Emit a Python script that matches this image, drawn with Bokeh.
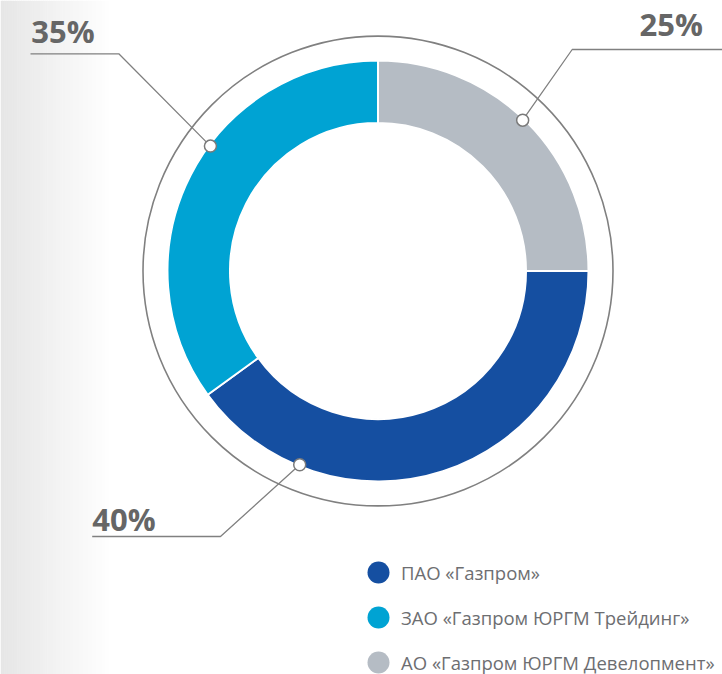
import numpy as np
from bokeh.plotting import figure
from bokeh.models import Range1d
from bokeh.core.properties import value
from bokeh.embed import file_html
from bokeh.resources import INLINE

# ---- data ----
companies = ["ПАО «Газпром»", "ЗАО «Газпром ЮРГМ Трейдинг»", "АО «Газпром ЮРГМ Девелопмент»"]
shares = [40, 35, 25]
labels = ["40%", "35%", "25%"]
colors = ["#154fa1", "#00a3d3", "#b5bcc4"]

# ---- layout constants (pixel units, origin at donut centre) ----
W, H = 722, 674
X0, X1 = -377.5, 344.5
Y0, Y1 = -403.5, 270.5
R_OUT, R_IN, R_RING = 210.5, 148, 235

p = figure(width=W, height=H, x_range=Range1d(X0, X1), y_range=Range1d(Y0, Y1),
           output_backend="svg", toolbar_location=None, min_border=0,
           outline_line_color=None, background_fill_color="white",
           border_fill_color="white")
p.axis.visible = False
p.grid.visible = False

# background gradient on the left
n = 60
xs = np.linspace(X0, X0 + 112, n + 1)
cols = []
for i in range(n):
    t = i / (n - 1)
    g = int(round(0xe6 + (255 - 0xe6) * t))
    cols.append("#%02x%02x%02x" % (g, g, g))
p.quad(left=xs[:-1], right=xs[1:] + 0.5, bottom=Y0, top=Y1, fill_color=cols, line_color=None)

# outer thin ring
p.circle(x=0, y=0, radius=R_RING, fill_color=None, line_color="#808080", line_width=1.6)

# donut: clockwise from 12 o'clock: 25 (gray), 40 (blue), 35 (cyan)
order = [2, 0, 1]
start = np.pi / 2
starts, ends, wcols = [], [], []
for i in order:
    span = shares[i] / sum(shares) * 2 * np.pi
    starts.append(start)
    ends.append(start - span)
    wcols.append(colors[i])
    start -= span
p.annular_wedge(x=0, y=0, inner_radius=R_IN, outer_radius=R_OUT,
                start_angle=starts, end_angle=ends, direction="clock",
                fill_color=wcols, line_color="white", line_width=2)

# leader lines + markers
mark_ang = {"35%": 143.3, "25%": 46.2, "40%": -112.0}
R_M = 209
elbows = {"35%": (-259.2, 217.2, -347.5), "25%": (194.2, 221.5, 350), "40%": (-157.5, -265.5, -285.8)}
for lab in labels:
    a = np.deg2rad(mark_ang[lab])
    mx, my = R_M * np.cos(a), R_M * np.sin(a)
    ex, ey, hx = elbows[lab]
    p.line(x=[mx, ex, hx], y=[my, ey, ey], line_color="#808080", line_width=1.3)
    p.scatter(x=[mx], y=[my], size=12, marker="circle", fill_color="white",
              line_color="#7a7a7a", line_width=1.5)

lab_pos = {"35%": (-346.8, 240.5), "25%": (261.5, 247.5), "40%": (-285.8, -247.5)}
p.text(x=[lab_pos[l][0] for l in labels], y=[lab_pos[l][1] for l in labels], text=labels,
       text_font=value("Open Sans"), text_font_style="bold", text_font_size="31px",
       text_color="#666666", text_baseline="alphabetic", text_align="left")

# legend
leg_y = [-301.5, -346.5, -391.5]
p.scatter(x=[0.5] * 3, y=leg_y, size=22, marker="circle", fill_color=colors, line_color=None)
p.text(x=[23.0] * 3, y=leg_y, text=companies, text_font=value("Open Sans"),
       text_font_size="18.5px", text_color="#6d6e71", text_baseline="middle", text_align="left")

open("out.html", "w").write(file_html(p, INLINE))
